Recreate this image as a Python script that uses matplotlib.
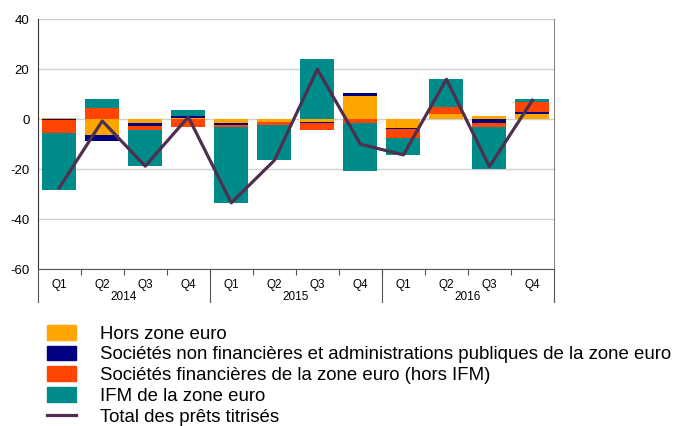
import numpy as np
import matplotlib
matplotlib.use('Agg')
import matplotlib.pyplot as plt
from matplotlib.patches import Patch
from matplotlib.lines import Line2D

plt.rcParams['font.family'] = ['Liberation Sans', 'DejaVu Sans']
plt.rcParams['axes.unicode_minus'] = False

# quarterly data, 2014Q1 - 2016Q4
quarters = ['Q1', 'Q2', 'Q3', 'Q4'] * 3
years = ['2014', '2015', '2016']

hors_zone = [0.3, -6.4, -1.7, 0.6, -1.7, -1.2, -1.2, 9.2, -3.7, 1.9, 1.1, 1.9]
snf_apu = [-0.3, -2.4, -1.1, 0.6, -0.5, 0.0, -0.4, 1.1, -0.2, 0.2, -1.7, 0.9]
soc_fin = [-5.2, 4.5, -1.6, -3.0, -1.1, -1.2, -2.8, -1.6, -3.5, 2.7, -1.6, 4.1]
ifm = [-22.7, 3.5, -14.4, 2.3, -30.1, -14.1, 24.1, -19.1, -7.1, 11.1, -16.8, 1.0]
total = [-27.5, -0.7, -18.8, 0.9, -33.5, -16.5, 20.0, -10.0, -14.3, 16.0, -19.0, 7.6]

labels = ['Hors zone euro',
          'Sociétés non financières et administrations publiques de la zone euro',
          'Sociétés financières de la zone euro (hors IFM)',
          'IFM de la zone euro',
          'Total des prêts titrisés']
colors = ['#FFA500', '#000080', '#FF4500', '#008B8B']
line_color = '#4E2F4E'

fig = plt.figure(figsize=(6.76, 4.26), dpi=100)
ax = fig.add_axes([0.0558, 0.3685, 0.7637, 0.5862])

x = np.arange(len(quarters))
pos_base = np.zeros(len(x))
neg_base = np.zeros(len(x))
for series, c in zip([hors_zone, snf_apu, soc_fin, ifm], colors):
    v = np.array(series)
    pos = np.where(v > 0, v, 0)
    neg = np.where(v < 0, v, 0)
    ax.bar(x, pos, 0.79, bottom=pos_base, color=c, linewidth=0, zorder=2)
    ax.bar(x, neg, 0.79, bottom=neg_base, color=c, linewidth=0, zorder=2)
    pos_base += pos
    neg_base += neg

ax.plot(x, total, color=line_color, lw=2.3, zorder=3)

ax.set_xlim(-0.5, 11.5)
ax.set_ylim(-60, 40)
ax.set_yticks([-60, -40, -20, 0, 20, 40])
ax.yaxis.grid(True, color='#d0d0d0', lw=1, zorder=0)
ax.tick_params(axis='y', length=0, pad=6, labelsize=9.5)

ax.set_xticks(x)
ax.set_xticklabels(quarters)
ax.tick_params(axis='x', which='major', length=0, pad=7, labelsize=8.5)
ax.set_xticks(np.arange(0.5, 11, 1), minor=True)
ax.tick_params(axis='x', which='minor', length=4.5, width=0.8, color='#555555', direction='out')

ax.spines['top'].set_visible(False)
ax.spines['left'].set_color('#333333')
ax.spines['bottom'].set_color('#555555')
ax.spines['right'].set_color('#888888')

# year labels and separators below the axis
trans = ax.get_xaxis_transform()
for i, yr in enumerate(years):
    ax.text(4 * i + 1.5, -0.112, yr, transform=trans, ha='center', va='center', fontsize=8.5)
for xb in [-0.5, 3.5, 7.5, 11.5]:
    ax.plot([xb, xb], [0, -0.132], transform=trans, color='#555555', lw=0.8, clip_on=False)

handles = [Patch(color=c) for c in colors] + [Line2D([0], [0], color=line_color, lw=2.3)]
fig.legend(handles, labels, loc='upper left', bbox_to_anchor=(0.069, 0.238),
           frameon=False, fontsize=13.45, handlelength=1.55, handleheight=0.85,
           handletextpad=1.28, labelspacing=0.16, borderpad=0, borderaxespad=0)

fig.savefig('out.png', dpi=100)
